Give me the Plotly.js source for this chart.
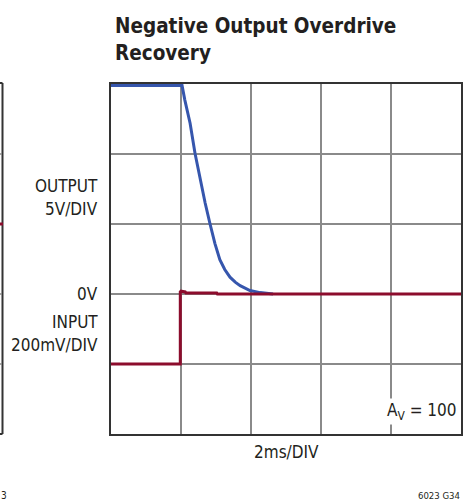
<!DOCTYPE html>
<html>
<head>
<meta charset="utf-8">
<script src="https://cdn.plot.ly/plotly-3.0.1.min.js"></script>
<style>html,body{margin:0;padding:0;background:#fff;}#chart{width:472px;height:502px;}</style>
</head>
<body>
<div id="chart"></div>
<script>
// time in ms (2 ms/div), amplitude in divisions (0V at division 2)
const outputTime = [0, 2.03, 2.11, 2.26, 2.40, 2.54, 2.69, 2.83, 2.97, 3.11, 3.25, 3.40, 3.55, 3.69, 3.83, 3.97, 4.26, 4.63];
const outputDiv  = [4.98, 4.98, 4.77, 4.44, 4.01, 3.66, 3.30, 3.00, 2.72, 2.49, 2.35, 2.24, 2.17, 2.12, 2.08, 2.05, 2.02, 2.0];
const inputTime = [0, 1.98, 1.98, 2.0, 2.12, 2.14, 3.02, 3.04, 10];
const inputDiv  = [1.0, 1.0, 2.03, 2.04, 2.03, 2.015, 2.015, 2.0, 2.0];

const FONT = '"DejaVu Sans Condensed", "Liberation Sans Narrow", sans-serif';
const L = 111, T = 84, W = 350, H = 350;
const px = x => (x - L) / W;
const py = y => (T + H - y) / H;

const traces = [
  {x: outputTime, y: outputDiv, mode: 'lines', line: {color: '#3656ad', width: 3}, hoverinfo: 'skip'},
  {x: inputTime, y: inputDiv, mode: 'lines', line: {color: '#8c0c2c', width: 3}, hoverinfo: 'skip'}
];

const leftShapes = [
  {type: 'line', xref: 'paper', yref: 'paper', x0: px(2.5), x1: px(2.5), y0: py(83), y1: py(434), line: {color: '#333', width: 2}},
  {type: 'line', xref: 'paper', yref: 'paper', x0: px(0), x1: px(2.5), y0: py(83), y1: py(83), line: {color: '#333', width: 2}},
  {type: 'line', xref: 'paper', yref: 'paper', x0: px(0), x1: px(2.5), y0: py(434), y1: py(434), line: {color: '#333', width: 2}},
  {type: 'line', xref: 'paper', yref: 'paper', x0: px(0), x1: px(2), y0: py(154), y1: py(154), line: {color: '#888', width: 1.5}},
  {type: 'line', xref: 'paper', yref: 'paper', x0: px(0), x1: px(2), y0: py(294), y1: py(294), line: {color: '#888', width: 1.5}},
  {type: 'line', xref: 'paper', yref: 'paper', x0: px(0), x1: px(2), y0: py(364), y1: py(364), line: {color: '#888', width: 1.5}},
  {type: 'line', xref: 'paper', yref: 'paper', x0: px(0), x1: px(3), y0: py(224), y1: py(224), line: {color: '#8c0c2c', width: 3}}
];

const ann = (text, x, y, size, xanchor, extra) => Object.assign({
  text, xref: 'paper', yref: 'paper', x: px(x), y: py(y), xanchor, yanchor: 'middle',
  showarrow: false, font: {family: FONT, size, color: '#231f20'}
}, extra || {});

const layout = {
  width: 472, height: 502,
  margin: {l: L, r: 472 - L - W, t: T, b: 502 - T - H, pad: 0},
  paper_bgcolor: '#fff', plot_bgcolor: '#fff',
  showlegend: false,
  xaxis: {range: [0, 10], dtick: 2, tick0: 0, showticklabels: false, ticks: '',
          showgrid: true, gridcolor: '#8a8a8a', gridwidth: 1.5, zeroline: false,
          showline: true, mirror: true, linecolor: '#333', linewidth: 2, fixedrange: true},
  yaxis: {range: [0, 5], dtick: 1, tick0: 0, showticklabels: false, ticks: '',
          showgrid: true, gridcolor: '#8a8a8a', gridwidth: 1.5, zeroline: false,
          showline: true, mirror: true, linecolor: '#333', linewidth: 2, fixedrange: true},
  shapes: leftShapes,
  annotations: [
    ann('<b>Negative Output Overdrive<br>Recovery</b>', 113, 39, 20.5, 'left', {align: 'left'}),
    ann('OUTPUT', 100, 186, 17, 'right'),
    ann('5V/DIV', 100, 209, 17, 'right'),
    ann('0V', 100, 294, 17, 'right'),
    ann('INPUT', 100, 322, 17, 'right'),
    ann('200mV/DIV', 100, 345, 17, 'right'),
    ann('2ms/DIV', 286, 452, 17, 'center'),
    ann('A<sub>V</sub> = 100', 459, 411, 17, 'right', {bgcolor: '#fff', borderpad: 1}),
    ann('6023 G34', 462, 496, 9.5, 'right'),
    ann('3', -1, 495, 10, 'left')
  ]
};

Plotly.newPlot('chart', traces, layout, {displayModeBar: false, staticPlot: true});
</script>
</body>
</html>
